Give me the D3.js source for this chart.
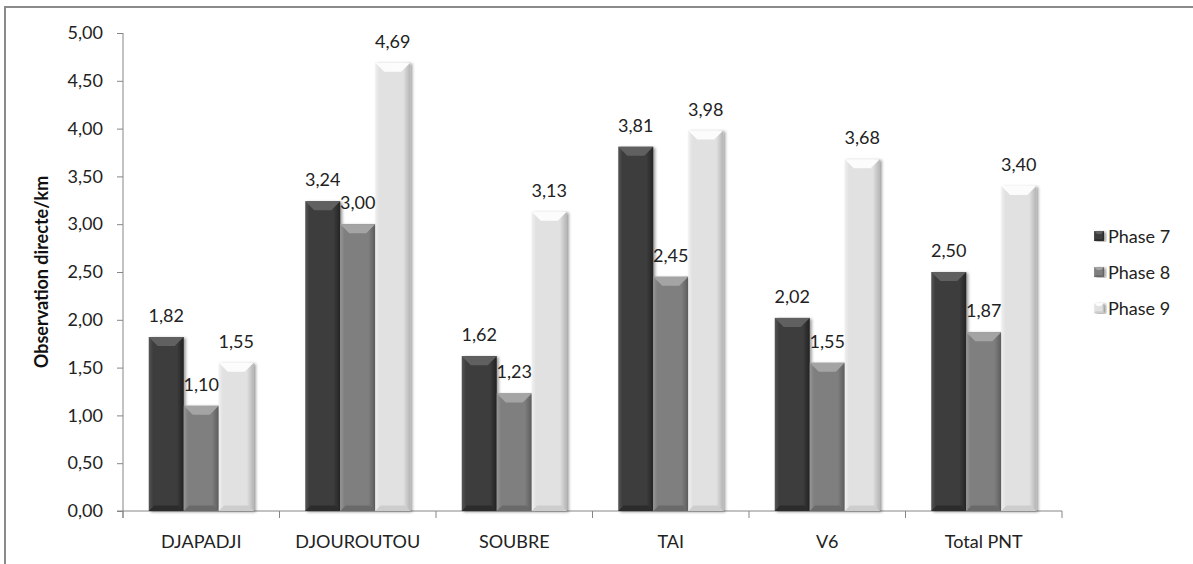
<!DOCTYPE html>
<html>
<head>
<meta charset="utf-8">
<script src="https://cdn.jsdelivr.net/npm/d3@7"></script>
<style>
  html, body { margin: 0; padding: 0; background: #ffffff; }
  svg { display: block; font-family: Lato, "Open Sans", sans-serif; }
</style>
</head>
<body>
<svg id="chart" width="1193" height="564"></svg>
<script>
// Observation directe par km, par site et par phase
const categories = ["DJAPADJI", "DJOUROUTOU", "SOUBRE", "TAI", "V6", "Total PNT"];
const seriesNames = ["Phase 7", "Phase 8", "Phase 9"];
const phase7 = [1.82, 3.24, 1.62, 3.81, 2.02, 2.50];
const phase8 = [1.10, 3.00, 1.23, 2.45, 1.55, 1.87];
const phase9 = [1.55, 4.69, 3.13, 3.98, 3.68, 3.40];
const yTicks = [0, 0.5, 1, 1.5, 2, 2.5, 3, 3.5, 4, 4.5, 5];
const yTitle = "Observation directe/km";

const seriesValues = [phase7, phase8, phase9];

// bevelled bar shading per series
const shades = [
  { body: "#3d3d3d", edgeL: "#555555", edgeR: "#232323", top: "#606060", bottom: "#2c2c2c" },
  { body: "#7f7f7f", edgeL: "#959595", edgeR: "#5c5c5c", top: "#a4a4a4", bottom: "#6a6a6a" },
  { body: "#e1e1e1", edgeL: "#f0f0f0", edgeR: "#b5b5b5", top: "#fcfcfc", bottom: "#cdcdcd" }
];

const svg = d3.select("#chart");
const fmt = v => d3.format(".2f")(v).replace(".", ",");
const axisColor = "#868686";

const plot = { left: 123, right: 1062, top: 33, bottom: 511 };

// chart frame
svg.append("rect")
  .attr("x", 5).attr("y", 7)
  .attr("width", 1300).attr("height", 700)
  .attr("fill", "none").attr("stroke", "#8a8a8a").attr("stroke-width", 2);

const defs = svg.append("defs");
shades.forEach((s, i) => {
  const g = defs.append("linearGradient").attr("id", "grad" + i)
    .attr("x1", "0").attr("x2", "1").attr("y1", "0").attr("y2", "0");
  g.append("stop").attr("offset", "0").attr("stop-color", s.edgeL);
  g.append("stop").attr("offset", "0.12").attr("stop-color", s.body);
  g.append("stop").attr("offset", "0.80").attr("stop-color", s.body);
  g.append("stop").attr("offset", "1").attr("stop-color", s.edgeR);
});
const shadow = defs.append("filter").attr("id", "shadow")
  .attr("x", "-20%").attr("y", "-5%").attr("width", "150%").attr("height", "115%");
shadow.append("feDropShadow").attr("dx", 2).attr("dy", 1)
  .attr("stdDeviation", 1.5).attr("flood-color", "#000").attr("flood-opacity", 0.4);

const x0 = d3.scaleBand().domain(categories).range([plot.left, plot.right]);
const bw = x0.bandwidth();
const groupW = 105;
const x1 = d3.scaleBand().domain(seriesNames).range([(bw - groupW) / 2, (bw + groupW) / 2]);
const y = d3.scaleLinear().domain([0, 5]).range([plot.bottom, plot.top]);

// y axis
const yAxis = svg.append("g")
  .attr("transform", `translate(${plot.left},0)`)
  .call(d3.axisLeft(y).tickValues(yTicks).tickFormat(fmt).tickSize(6).tickPadding(14));
yAxis.select(".domain").attr("stroke", axisColor).attr("d", `M0,${plot.top}V${plot.bottom + 7}`);
yAxis.selectAll(".tick line").attr("stroke", axisColor);
yAxis.selectAll(".tick text").attr("font-size", 18).attr("fill", "#222")
  .attr("font-family", "Lato, sans-serif");

// x axis
const xAxis = svg.append("g").attr("transform", `translate(0,${plot.bottom})`);
xAxis.append("line")
  .attr("x1", plot.left - 6).attr("x2", plot.right)
  .attr("y1", 0).attr("y2", 0).attr("stroke", axisColor);
const boundaries = categories.map(c => x0(c)).concat([x0(categories[categories.length - 1]) + bw]);
xAxis.selectAll("line.tk").data(boundaries).join("line").attr("class", "tk")
  .attr("x1", d => d).attr("x2", d => d).attr("y1", 0).attr("y2", 7)
  .attr("stroke", axisColor);
xAxis.selectAll("text").data(categories).join("text")
  .attr("x", d => x0(d) + bw / 2).attr("y", 37)
  .attr("text-anchor", "middle").attr("font-size", 18).attr("fill", "#222")
  .text(d => d);

// bevelled bar drawing
function bevelBar(g, x, yTop, w, h, si, bevel) {
  const s = shades[si];
  const b = Math.min(bevel, h / 2);
  const grp = g.append("g");
  grp.append("rect").attr("x", x).attr("y", yTop).attr("width", w).attr("height", h)
    .attr("fill", `url(#grad${si})`).attr("filter", "url(#shadow)");
  grp.append("path")
    .attr("d", `M${x},${yTop}L${x + w},${yTop}L${x + w - b},${yTop + b}L${x + b},${yTop + b}Z`)
    .attr("fill", s.top);
  grp.append("path")
    .attr("d", `M${x},${yTop + h}L${x + w},${yTop + h}L${x + w - b * 0.6},${yTop + h - b * 0.6}L${x + b * 0.6},${yTop + h - b * 0.6}Z`)
    .attr("fill", s.bottom);
}

const bars = svg.append("g");
categories.forEach((c, ci) => {
  seriesNames.forEach((sn, si) => {
    const v = seriesValues[si][ci];
    const bx = x0(c) + x1(sn);
    bevelBar(bars, bx, y(v), x1.bandwidth(), y(0) - y(v), si, 9);
  });
});

// value labels
const labels = svg.append("g");
categories.forEach((c, ci) => {
  seriesNames.forEach((sn, si) => {
    const v = seriesValues[si][ci];
    labels.append("text")
      .attr("x", x0(c) + x1(sn) + x1.bandwidth() / 2)
      .attr("y", y(v) - 15)
      .attr("text-anchor", "middle").attr("font-size", 18).attr("fill", "#222")
      .text(fmt(v));
  });
});

// y axis title
svg.append("text")
  .attr("transform", `translate(41,${(plot.top + plot.bottom) / 2}) rotate(-90)`)
  .attr("text-anchor", "middle").attr("dominant-baseline", "central")
  .attr("font-size", 18).attr("font-weight", "bold").attr("fill", "#111")
  .text(yTitle);

// legend
const legend = svg.append("g");
seriesNames.forEach((sn, si) => {
  const ly = 236 + si * 36;
  bevelBar(legend, 1094, ly - 5, 10, 10, si, 3);
  legend.append("text").attr("x", 1108).attr("y", ly)
    .attr("dominant-baseline", "central")
    .attr("font-size", 18).attr("fill", "#222").text(sn);
});
</script>
</body>
</html>
